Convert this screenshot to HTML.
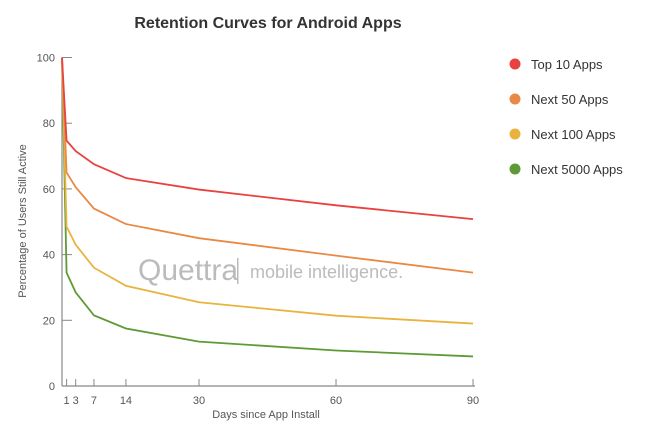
<!DOCTYPE html>
<html><head><meta charset="utf-8"><style>
body{margin:0;background:#fff;width:650px;height:436px;overflow:hidden}
svg{font-family:"Liberation Sans",sans-serif}
</style></head><body>
<svg id="chart" width="650" height="436" xmlns="http://www.w3.org/2000/svg">
<text x="268" y="28" text-anchor="middle" font-size="16" font-weight="bold" fill="#333">Retention Curves for Android Apps</text>
<g fill="#bbb">
<text x="138" y="280" font-size="30">Quettra</text>
<rect x="237" y="258" width="1.5" height="26"/>
<text x="250" y="278" font-size="18">mobile intelligence.</text>
</g>
<g id="axes"></g>
<g id="series"></g>
<text transform="translate(26,221) rotate(-90)" text-anchor="middle" font-size="11" fill="#555">Percentage of Users Still Active</text>
<text x="266" y="418" text-anchor="middle" font-size="11" fill="#555">Days since App Install</text>
<g id="legend"></g>
</svg>
<script>
const days=[0,1,3,7,14,30,60,90];
const xTicks=[1,3,7,14,30,60,90];
const yTicks=[0,20,40,60,80,100];
const seriesNames=["Top 10 Apps","Next 50 Apps","Next 100 Apps","Next 5000 Apps"];
const top10=[100,74.7,71.5,67.5,63.3,59.8,55,50.8];
const next50=[100,65,60.5,54,49.3,45,39.7,34.5];
const next100=[100,48.5,43,36,30.5,25.5,21.4,19];
const next5000=[100,34.5,28.5,21.5,17.5,13.5,10.8,9];
const colors=["#e8423f","#e88a45","#e8b43e","#5e9a35"];
const allSeries=[top10,next50,next100,next5000];
const NS="http://www.w3.org/2000/svg";
const x=d=>62+d*4.567, y=v=>386-v*3.285;
function mk(t,a,p){const e=document.createElementNS(NS,t);for(const k in a)e.setAttribute(k,a[k]);p.appendChild(e);return e;}
const ax=document.getElementById('axes');
let l=mk('line',{x1:62,y1:y(100),x2:62,y2:386,stroke:'#888','stroke-width':1.2},ax);


l=mk('line',{x1:62,y1:386,x2:x(90)+2,y2:386,stroke:'#888','stroke-width':1.2},ax);


yTicks.forEach(v=>{
 const t=mk('line',{x1:62,x2:72,y1:y(v),y2:y(v),stroke:'#888'},ax);
 
 
 const tx=mk('text',{x:55,y:y(v)+4,'text-anchor':'end','font-size':11,fill:'#555'},ax);tx.textContent=v;
 
 
});
xTicks.forEach(d=>{
 const t=mk('line',{x1:x(d),x2:x(d),y1:379,y2:386,stroke:'#888'},ax);
 
 
 const tx=mk('text',{x:x(d),y:404,'text-anchor':'middle','font-size':11,fill:'#555'},ax);tx.textContent=d;
 
 
});
const sg=document.getElementById('series'),lg=document.getElementById('legend');
for(let i=allSeries.length-1;i>=0;i--){
 const s=allSeries[i];
 const p=mk('polyline',{points:s.map((v,j)=>x(days[j])+','+y(v)).join(' '),fill:'none',stroke:colors[i],'stroke-width':1.8},sg);
 
 
}
allSeries.forEach((s,i)=>{
 const g=mk('g',{},lg);
 
 
 mk('circle',{cx:515,cy:64+i*35,r:5.5,fill:colors[i]},g);
 const tx=mk('text',{x:531,y:69+i*35,'font-size':13,fill:'#333'},g);tx.textContent=seriesNames[i];
});
</script>
</body></html>
